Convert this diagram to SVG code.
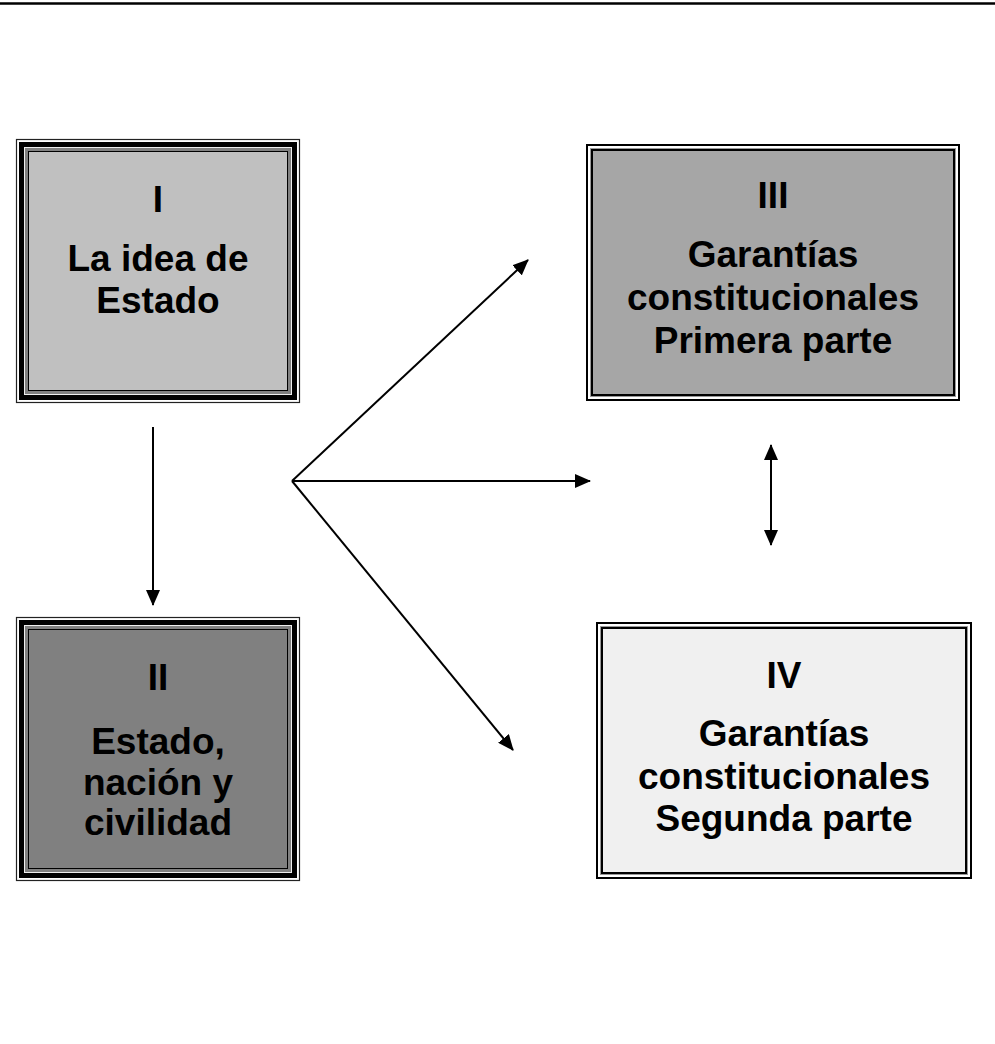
<svg xmlns="http://www.w3.org/2000/svg" width="995" height="1044" viewBox="0 0 995 1044">
<defs>
<style>
.t{font-family:"Liberation Sans",Arial,sans-serif;font-weight:bold;font-size:37px;fill:#000;text-anchor:middle}
.c{stroke:#000;stroke-width:2;fill:none}
</style>
<marker id="ah" markerWidth="16" markerHeight="14" refX="15" refY="7" orient="auto" markerUnits="userSpaceOnUse">
<path d="M0,0 L16,7 L0,14 Z" fill="#000"/>
</marker>
<marker id="as" markerWidth="16" markerHeight="14" refX="1" refY="7" orient="auto" markerUnits="userSpaceOnUse">
<path d="M16,0 L0,7 L16,14 Z" fill="#000"/>
</marker>
</defs>
<rect width="995" height="1044" fill="#fff"/>
<line x1="0" y1="3.5" x2="995" y2="3.5" stroke="#000" stroke-width="2.5"/>

<g id="node-I">
<rect x="16.5" y="139.5" width="283" height="263" fill="#fff" stroke="#222" stroke-width="1.2"/>
<rect x="19" y="142" width="278" height="258" fill="#000"/>
<rect x="24" y="147" width="268" height="248" fill="#eee"/>
<rect x="25" y="148" width="266" height="246" fill="#808080"/>
<rect x="28" y="151" width="260" height="240" fill="#000"/>
<rect x="29" y="152" width="258" height="238" fill="#c0c0c0"/>
<text class="t" x="158" y="212">I</text>
<text class="t" x="158" y="271">La idea de</text>
<text class="t" x="158" y="313">Estado</text>
</g>

<g id="node-II">
<rect x="16.5" y="617.5" width="283" height="263" fill="#fff" stroke="#222" stroke-width="1.2"/>
<rect x="19" y="620" width="278" height="258" fill="#000"/>
<rect x="24" y="625" width="268" height="248" fill="#eee"/>
<rect x="25" y="626" width="266" height="246" fill="#808080"/>
<rect x="28" y="629" width="260" height="240" fill="#000"/>
<rect x="29" y="630" width="258" height="238" fill="#808080"/>
<text class="t" x="158" y="690">II</text>
<text class="t" x="158" y="754">Estado,</text>
<text class="t" x="158" y="795">nación y</text>
<text class="t" x="158" y="835">civilidad</text>
</g>

<g id="node-III">
<rect x="587" y="145" width="372" height="255" fill="#fff" stroke="#000" stroke-width="2"/>
<rect x="590.5" y="148.5" width="365" height="248" fill="none" stroke="#999" stroke-width="1"/>
<rect x="592" y="150" width="362" height="245" fill="#a6a6a6" stroke="#000" stroke-width="2"/>
<text class="t" x="773" y="208">III</text>
<text class="t" x="773" y="267">Garantías</text>
<text class="t" x="773" y="310">constitucionales</text>
<text class="t" x="773" y="353">Primera parte</text>
</g>

<g id="node-IV">
<rect x="597" y="623" width="374" height="255" fill="#fff" stroke="#000" stroke-width="2"/>
<rect x="600.5" y="626.5" width="367" height="248" fill="none" stroke="#999" stroke-width="1"/>
<rect x="602" y="628" width="364" height="245" fill="#f0f0f0" stroke="#000" stroke-width="2"/>
<text class="t" x="784" y="688">IV</text>
<text class="t" x="784" y="746">Garantías</text>
<text class="t" x="784" y="789">constitucionales</text>
<text class="t" x="784" y="831">Segunda parte</text>
</g>

<g id="connectors">
<line class="c" x1="153" y1="427" x2="153" y2="605" marker-end="url(#ah)"/>
<line class="c" x1="292" y1="481" x2="528" y2="260" marker-end="url(#ah)"/>
<line class="c" x1="292" y1="481" x2="590" y2="481" marker-end="url(#ah)"/>
<line class="c" x1="292" y1="481" x2="513" y2="750" marker-end="url(#ah)"/>
<line class="c" x1="771" y1="445" x2="771" y2="545" marker-start="url(#as)" marker-end="url(#ah)"/>
</g>
</svg>
